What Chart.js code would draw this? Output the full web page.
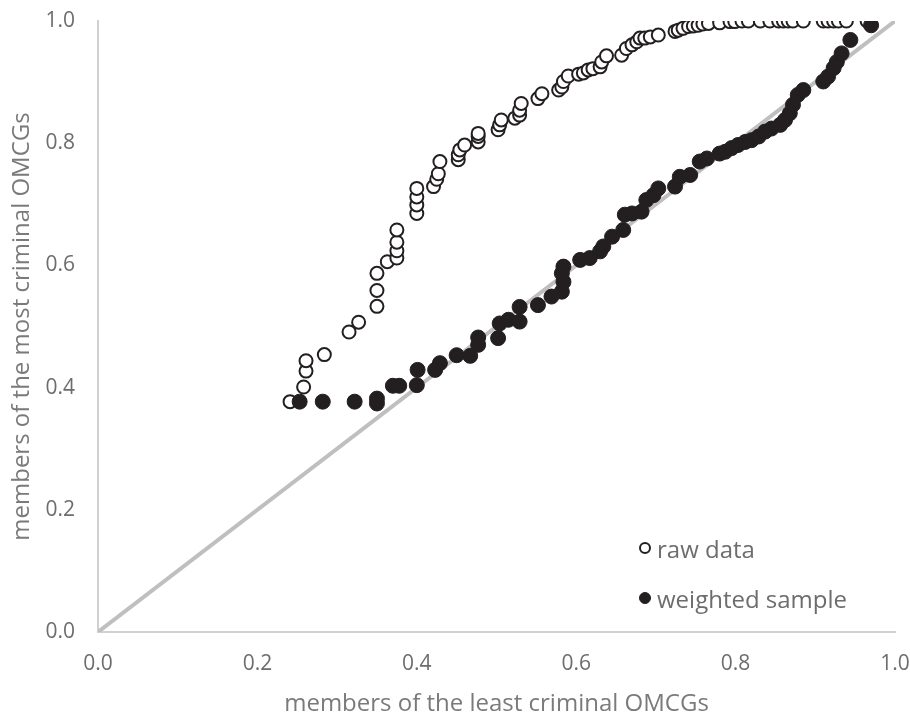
<!DOCTYPE html>
<html>
<head>
<meta charset="utf-8">
<title>OMCG members</title>
<script src="https://cdn.jsdelivr.net/npm/chart.js@4.4.1/dist/chart.umd.min.js"></script>
<style>
  body { margin: 0; background: #fff; }
  #wrap { position: relative; width: 910px; height: 716px; }
  #legend { position: absolute; left: 639px; top: 533px; font-family: 'Open Sans', sans-serif; font-size: 24px; color: #6d6d6d; }
  .row { display: flex; align-items: center; height: 30px; margin-bottom: 20px; }
  .dot { width: 12px; height: 12px; border-radius: 50%; box-sizing: border-box; margin-right: 6px; }
  .dot.open { border: 2px solid #231f20; background: #fff; }
  .dot.full { border: 1px solid #231f20; background: #231f20; }
</style>
</head>
<body>
<div id="wrap">
  <canvas id="my-chart" width="910" height="716"></canvas>
  <div id="legend">
    <div class="row"><span class="dot open"></span><span>raw data</span></div>
    <div class="row"><span class="dot full"></span><span>weighted sample</span></div>
  </div>
</div>
<script>
'use strict';

// #pragma Data

let tickValues = [0, 0.2, 0.4, 0.6, 0.8, 1.0];

let rawX = [0.241, 0.258, 0.261, 0.261, 0.284, 0.315, 0.327, 0.350, 0.350, 0.350,
  0.363, 0.375, 0.375, 0.375, 0.375, 0.400, 0.400, 0.400, 0.400, 0.421,
  0.425, 0.427, 0.429, 0.452, 0.452, 0.454, 0.460, 0.477, 0.477, 0.477,
  0.502, 0.504, 0.506, 0.523, 0.529, 0.529, 0.531, 0.552, 0.557, 0.578,
  0.582, 0.584, 0.590, 0.603, 0.609, 0.615, 0.621, 0.630, 0.632, 0.638,
  0.657, 0.663, 0.670, 0.676, 0.680, 0.686, 0.693, 0.703, 0.724, 0.728,
  0.734, 0.741, 0.747, 0.753, 0.759, 0.766, 0.780, 0.793, 0.799, 0.808,
  0.816, 0.831, 0.843, 0.854, 0.860, 0.866, 0.872, 0.885, 0.910, 0.916,
  0.923, 0.929, 0.939, 0.965];
let rawY = [0.377, 0.401, 0.427, 0.444, 0.454, 0.491, 0.507, 0.533, 0.559, 0.587,
  0.606, 0.612, 0.624, 0.638, 0.658, 0.685, 0.699, 0.712, 0.726, 0.729,
  0.741, 0.750, 0.770, 0.773, 0.781, 0.789, 0.797, 0.802, 0.811, 0.816,
  0.822, 0.830, 0.838, 0.841, 0.846, 0.854, 0.865, 0.873, 0.881, 0.887,
  0.892, 0.901, 0.910, 0.913, 0.915, 0.920, 0.922, 0.925, 0.933, 0.943,
  0.944, 0.955, 0.961, 0.966, 0.972, 0.972, 0.974, 0.977, 0.983, 0.985,
  0.988, 0.991, 0.992, 0.993, 0.995, 0.996, 0.997, 0.999, 0.999, 1.0,
  1.0, 1.0, 1.0, 1.0, 1.0, 1.0, 1.0, 1.0, 1.0, 1.0,
  1.0, 1.0, 1.0, 1.0];

let weightedX = [0.253, 0.282, 0.322, 0.350, 0.350, 0.370, 0.378, 0.400, 0.401, 0.423,
  0.429, 0.450, 0.467, 0.477, 0.477, 0.502, 0.504, 0.515, 0.529, 0.529,
  0.552, 0.569, 0.582, 0.584, 0.582, 0.584, 0.605, 0.617, 0.630, 0.634,
  0.645, 0.659, 0.661, 0.670, 0.682, 0.688, 0.697, 0.703, 0.724, 0.730,
  0.743, 0.755, 0.764, 0.780, 0.787, 0.795, 0.803, 0.812, 0.820, 0.829,
  0.837, 0.845, 0.856, 0.862, 0.868, 0.872, 0.878, 0.885, 0.910, 0.916,
  0.923, 0.927, 0.933, 0.944, 0.970];
let weightedY = [0.377, 0.377, 0.377, 0.382, 0.374, 0.403, 0.403, 0.404, 0.429, 0.429,
  0.440, 0.453, 0.452, 0.470, 0.482, 0.481, 0.505, 0.511, 0.508, 0.532,
  0.535, 0.549, 0.557, 0.573, 0.587, 0.598, 0.609, 0.612, 0.623, 0.631,
  0.647, 0.658, 0.683, 0.685, 0.688, 0.707, 0.715, 0.726, 0.729, 0.745,
  0.748, 0.770, 0.775, 0.783, 0.786, 0.792, 0.797, 0.802, 0.805, 0.811,
  0.819, 0.824, 0.830, 0.838, 0.849, 0.863, 0.879, 0.887, 0.901, 0.909,
  0.923, 0.933, 0.947, 0.969, 0.993];

// equality line
let diagonalX = [0, 1];
let diagonalY = [0, 1];

// #pragma Helpers

function toPoints(xs, ys) {
  let pts = [];
  for (let i = 0; i < xs.length; i++) {
    pts.push({ x: xs[i], y: ys[i] });
  }
  return pts;
}

function formatTick(value) {
  return tickValues.indexOf(value) > -1 ? value.toFixed(1) : '';
}

// #pragma Chart

let chartContext = document.getElementById('my-chart').getContext('2d');

let ink = '#231f20';
let tickFont = { family: 'Open Sans', size: 21 };
let titleFont = { family: 'Open Sans', size: 24, lineHeight: 1.0 };

let chartConfig = {
  type: 'scatter',
  data: {
    datasets: [{
      label: 'weighted sample',
      data: toPoints(weightedX, weightedY),
      pointRadius: 7.5,
      pointBorderWidth: 1,
      backgroundColor: ink,
      borderColor: ink,
      order: 1,
    }, {
      label: 'raw data',
      data: toPoints(rawX, rawY),
      pointRadius: 6.5,
      pointBorderWidth: 2,
      backgroundColor: '#ffffff',
      borderColor: ink,
      order: 2,
    }, {
      type: 'line',
      label: 'diagonal',
      data: toPoints(diagonalX, diagonalY),
      borderColor: '#bfbfbf',
      borderWidth: 4,
      pointRadius: 0,
      order: 3,
    }],
  },
  options: {
    responsive: false,
    animation: false,
    layout: { padding: { top: 21, right: 15, bottom: 0, left: 0 } },
    plugins: {
      legend: { display: false },
      tooltip: { enabled: false },
    },
    scales: {
      x: {
        type: 'linear',
        min: 0,
        max: 1,
        grid: { display: false, drawTicks: false },
        border: { display: true, color: '#d0d0d0', width: 2 },
        ticks: { stepSize: 0.2, padding: 19, color: '#6d6d6d', font: tickFont, callback: formatTick },
        title: { display: true, text: 'members of the least criminal OMCGs', color: '#7a7a7a', font: titleFont, padding: { top: 0, bottom: 0 } },
        afterFit: function (scale) {
          scale.height = 84;
          scale.paddingLeft = 0;
          scale.paddingRight = 0;
        },
      },
      y: {
        type: 'linear',
        min: 0,
        max: 1,
        grid: { display: false, drawTicks: false },
        border: { display: true, color: '#d0d0d0', width: 2 },
        ticks: { stepSize: 0.2, padding: 23, color: '#6d6d6d', font: tickFont, callback: formatTick },
        title: { display: true, text: 'members of the most criminal OMCGs', color: '#7a7a7a', font: titleFont, padding: { top: 10, bottom: 0 } },
        afterFit: function (scale) {
          scale.width = 98;
          scale.paddingTop = 0;
          scale.paddingBottom = 0;
        },
      },
    },
  },
};

let myChart = new Chart(chartContext, chartConfig);
</script>
</body>
</html>
